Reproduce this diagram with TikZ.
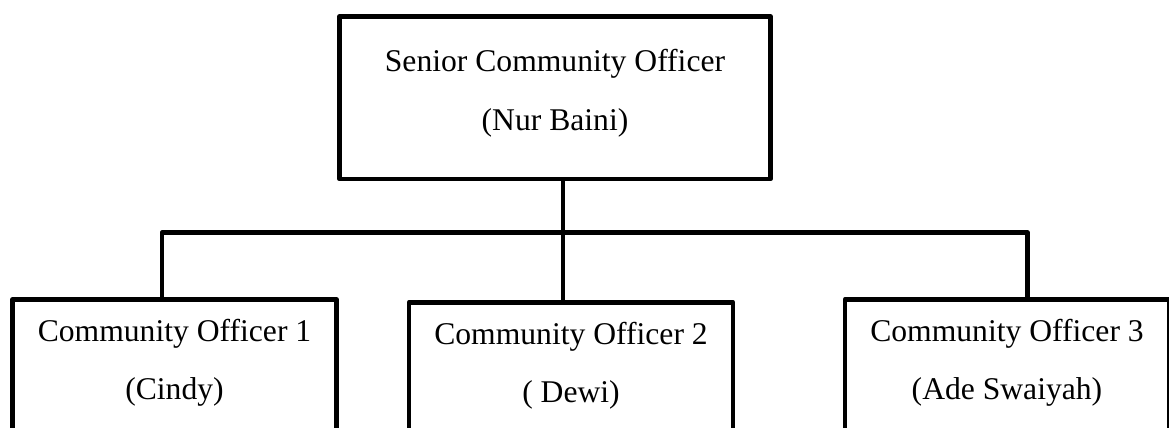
\documentclass[tikz,border=0pt]{standalone}
\usepackage{fontspec}
\setmainfont{Liberation Serif}
\tikzset{
  orgbox/.style={draw, line width=2.6pt, line join=round, align=center, inner xsep=0pt,
                 font=\fontsize{18}{33.5}\selectfont, anchor=north, text height=45.5pt},
  seniorbox/.style={orgbox, minimum width=8.62cm, inner ysep=0.68cm, text depth=8.4pt},
  officerbox/.style={orgbox, minimum width=6.48cm, inner ysep=11.8pt, text depth=5cm},
  orglink/.style={line width=2.6pt, line join=round},
}
\begin{document}
\begin{tikzpicture}[x=0.02cm, y=-0.02cm]
    \clip (0,0) rectangle (1169,428);
    \node[seniorbox] (senior) at (555,14) {Senior Community Officer\\(Nur Baini)};
    \node[officerbox] (co1) at (174.5,297) {Community Officer 1\\(Cindy)};
    \node[officerbox] (co2) at (571,300) {Community Officer 2\\( Dewi)};
    \node[officerbox] (co3) at (1007,297) {Community Officer 3\\(Ade Swaiyah)};
    \coordinate (hubl) at (162,232.5);
    \coordinate (hubm) at (563,232.5);
    \coordinate (hubr) at (1027.5,232.5);
    \draw[orglink] (senior.south -| hubm) -- (co2.north -| hubm);
    \draw[orglink] (co1.north -| hubl) -- (hubl) -- (hubr) -- (co3.north -| hubr);
  \end{tikzpicture}
\end{document}
